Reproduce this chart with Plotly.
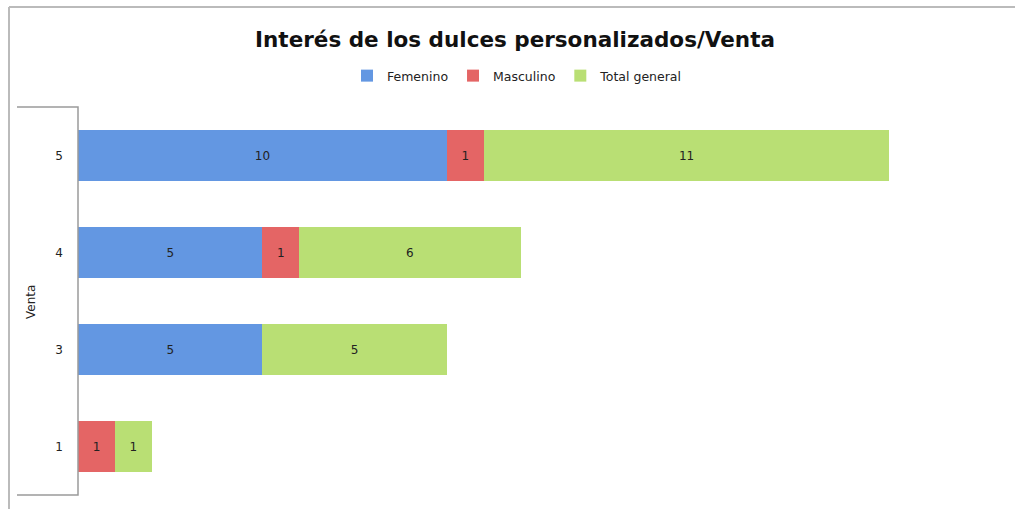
import plotly.graph_objects as go

categories = ["1", "3", "4", "5"]
femenino = [0, 5, 5, 10]
masculino = [1, 0, 1, 1]
total_general = [1, 5, 6, 11]

series = [
    ("Femenino", femenino, "#6397e2"),
    ("Masculino", masculino, "#e46565"),
    ("Total general", total_general, "#b9df74"),
]

FONT = "DejaVu Sans, Verdana, sans-serif"
W, H = 1015, 509
ml, mr, mt, mb = 78, 15, 107, 14

fig = go.Figure()
for name, vals, col in series:
    fig.add_trace(go.Bar(
        name=name,
        y=categories,
        x=vals,
        orientation="h",
        marker=dict(color=col, line=dict(width=0)),
        text=[str(v) if v else "" for v in vals],
        textposition="inside",
        insidetextanchor="middle",
        textangle=0,
        constraintext="none",
        textfont=dict(family=FONT, size=12, color="#222222"),
    ))

pw = W - ml - mr
ph = H - mt - mb
bx0 = (17 - ml) / pw

fig.update_layout(
    width=W, height=H,
    barmode="stack",
    bargap=0.48,
    plot_bgcolor="white",
    paper_bgcolor="white",
    margin=dict(l=ml, r=mr, t=mt, b=mb),
    font=dict(family=FONT, color="#222222"),
    title=dict(
        text="<b>Interés de los dulces personalizados/Venta</b>",
        x=(515 / W), xanchor="center", y=1 - 39 / H, yanchor="middle",
        font=dict(family=FONT, size=21.5, color="#111111"),
    ),
    legend=dict(
        orientation="h", x=(517 - ml) / pw, xanchor="center",
        y=(H - mb - 76) / ph, yanchor="middle",
        font=dict(family=FONT, size=12.5), itemwidth=30,
        traceorder="normal",
    ),
    xaxis=dict(range=[0, 25], showgrid=False, zeroline=False,
               showticklabels=False, showline=False),
    yaxis=dict(type="category", categoryorder="array", categoryarray=categories,
               showgrid=False, zeroline=False, showline=False,
               ticklabelstandoff=14,
               tickfont=dict(family=FONT, size=12, color="#222222")),
    shapes=[
        dict(type="path", xref="paper", yref="paper",
             path=f"M {bx0},1 L 0,1 L 0,0 L {bx0},0",
             line=dict(color="#9a9a9a", width=1.5)),
        dict(type="line", xref="paper", yref="paper",
             x0=(9 - ml) / pw, x1=(9 - ml) / pw,
             y0=(H - mb - 7) / ph, y1=(H - mb - H) / ph,
             line=dict(color="#bbbbbb", width=2)),
        dict(type="line", xref="paper", yref="paper",
             x0=(9 - ml) / pw, x1=(W - ml) / pw,
             y0=(H - mb - 7) / ph, y1=(H - mb - 7) / ph,
             line=dict(color="#bbbbbb", width=2)),
    ],
    annotations=[
        dict(text="Venta", textangle=-90, xref="paper", yref="paper",
             x=(31 - ml) / pw, y=(H - mb - 302) / ph,
             xanchor="center", yanchor="middle", showarrow=False,
             font=dict(family=FONT, size=12, color="#222222")),
    ],
)

fig.write_html("out.html", config={"displayModeBar": False},
               post_script="document.body.style.margin='0';")
